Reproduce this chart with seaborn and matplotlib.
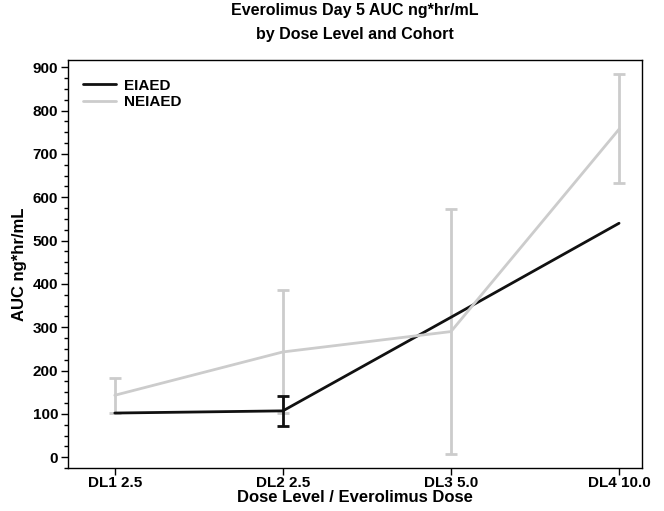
import numpy as np
import pandas as pd
import matplotlib
matplotlib.use("Agg")
import matplotlib.pyplot as plt
import seaborn as sns
from matplotlib.ticker import MultipleLocator

categories = ["DL1 2.5", "DL2 2.5", "DL3 5.0", "DL4 10.0"]
eiaed_mean = [102, 107, 323, 540]
eiaed_low = [102, 72, 323, 540]
eiaed_high = [102, 142, 323, 540]
neiaed_mean = [143, 243, 290, 757]
neiaed_low = [103, 101, 8, 632]
neiaed_high = [183, 385, 573, 885]

sns.set_theme(style="white")
plt.rcParams['font.family'] = ['Liberation Sans', 'DejaVu Sans']
plt.rcParams['text.color'] = 'black'
plt.rcParams['axes.labelcolor'] = 'black'
plt.rcParams['xtick.color'] = 'black'
plt.rcParams['ytick.color'] = 'black'

df = pd.DataFrame({
    "dose": list(range(4)) * 2,
    "auc": eiaed_mean + neiaed_mean,
    "cohort": ["EIAED"] * 4 + ["NEIAED"] * 4,
})
colors = {"EIAED": "#111111", "NEIAED": "#cccccc"}

fig, ax = plt.subplots(figsize=(6.64, 5.11), dpi=100)
fig.subplots_adjust(left=0.102, right=0.967, top=0.882, bottom=0.084)

x = np.arange(4)
nm = np.array(neiaed_mean); nl = np.array(neiaed_low); nh = np.array(neiaed_high)
ax.errorbar(x, nm, yerr=[nm - nl, nh - nm], fmt="none", ecolor=colors["NEIAED"],
            elinewidth=2, capsize=4.3, capthick=2, zorder=2)
em = np.array(eiaed_mean); el = np.array(eiaed_low); eh = np.array(eiaed_high)
mask = (eh - el) > 0
ax.errorbar(x[mask], em[mask], yerr=[(em - el)[mask], (eh - em)[mask]], fmt="none",
            ecolor=colors["EIAED"], elinewidth=2, capsize=4.3, capthick=2, zorder=3)

sns.lineplot(data=df, x="dose", y="auc", hue="cohort", palette=colors,
             linewidth=2, ax=ax, zorder=4, legend=True)

ax.set_xlim(-0.28, 3.137)
ax.set_ylim(-25, 916)
ax.set_xticks(x)
ax.set_xticklabels(categories, fontsize=11, fontweight="bold")
ax.yaxis.set_major_locator(MultipleLocator(100))
ax.yaxis.set_minor_locator(MultipleLocator(25))
ax.tick_params(axis="y", which="major", labelsize=11, length=5, width=1, left=True, pad=2)
ax.tick_params(axis="y", which="minor", length=3, width=1, left=True)
ax.tick_params(axis="x", which="major", length=5, width=1, bottom=True, pad=1)
for lab in ax.get_yticklabels():
    lab.set_fontweight("bold")
for s in ax.spines.values():
    s.set_color("black")
    s.set_linewidth(1)

ax.set_xlabel("Dose Level / Everolimus Dose", fontsize=12, fontweight="bold", labelpad=0)
ax.set_ylabel("AUC ng*hr/mL", fontsize=12, fontweight="bold", labelpad=4)
ax.set_title("Everolimus Day 5 AUC ng*hr/mL\nby Dose Level and Cohort", fontsize=11.5,
             fontweight="bold", pad=15, linespacing=1.75)

leg = ax.legend(loc="upper left", frameon=False, fontsize=11, handlelength=2.2,
                bbox_to_anchor=(0.005, 0.985), borderaxespad=0.4, labelspacing=0.15,
                handletextpad=0.5)
for t in leg.get_texts():
    t.set_fontweight("bold")
for h in leg.get_lines():
    h.set_linewidth(2)

fig.savefig("out.png", dpi=100)
